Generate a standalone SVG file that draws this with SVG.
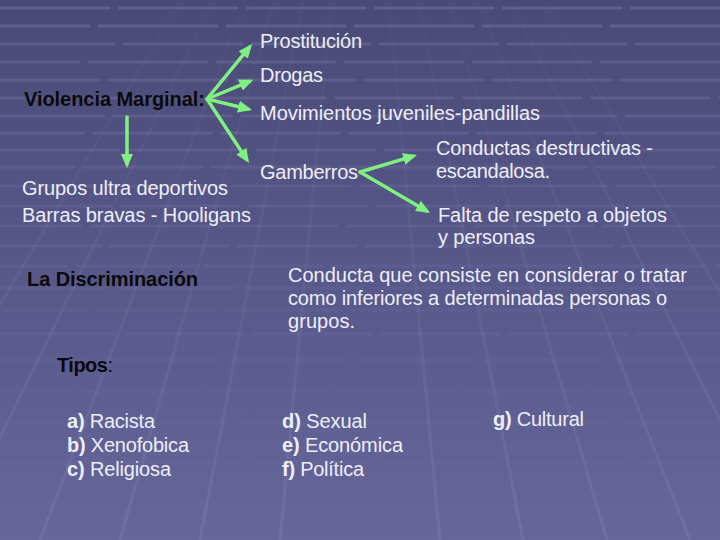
<svg xmlns="http://www.w3.org/2000/svg" width="720" height="540" viewBox="0 0 720 540">
<defs>
<linearGradient id="bg" x1="0" y1="0" x2="0" y2="1">
<stop offset="0" stop-color="#4a4a77"/>
<stop offset="0.5" stop-color="#57578a"/>
<stop offset="1" stop-color="#66669b"/>
</linearGradient>
<linearGradient id="persp" gradientUnits="userSpaceOnUse" x1="0" y1="0" x2="0" y2="540">
<stop offset="0" stop-color="#9a9ac8" stop-opacity="0.02"/>
<stop offset="1" stop-color="#9a9ac8" stop-opacity="0.18"/>
</linearGradient>
<marker id="ah" markerUnits="userSpaceOnUse" markerWidth="16" markerHeight="14" refX="10" refY="7" orient="auto">
<path d="M0,1 L14,7 L0,13 Z" fill="#80f080"/>
</marker>
<style>
.w{font-family:"Liberation Sans",Arial,sans-serif;font-size:20px;fill:#eeeef8}
.k{font-family:"Liberation Sans",Arial,sans-serif;font-size:20px;fill:#0a0a0a;font-weight:bold}
.b{font-weight:bold}
.n{font-weight:normal}
.c{stroke:#80f080;stroke-width:3.5;fill:none;stroke-linecap:round;marker-end:url(#ah)}
.bar{stroke:#7c7cab;stroke-width:3;fill:none}
.pl{stroke:url(#persp);stroke-width:3;fill:none}
</style>
</defs>
<rect width="720" height="540" fill="url(#bg)"/>
<g id="background-grid">
<g class="bar" stroke-dasharray="120 8">
<line x1="0" y1="8" x2="720" y2="8" stroke-opacity="0.42" stroke-dashoffset="10"/>
<line x1="0" y1="26" x2="720" y2="26" stroke-opacity="0.4" stroke-dashoffset="30"/>
<line x1="0" y1="44" x2="720" y2="44" stroke-opacity="0.38" stroke-dashoffset="5"/>
<line x1="0" y1="62" x2="720" y2="62" stroke-opacity="0.36" stroke-dashoffset="40"/>
<line x1="0" y1="80" x2="720" y2="80" stroke-opacity="0.35" stroke-dashoffset="20"/>
<line x1="0" y1="98" x2="720" y2="98" stroke-opacity="0.34" stroke-dashoffset="50"/>
<line x1="0" y1="116" x2="720" y2="116" stroke-opacity="0.33" stroke-dashoffset="15"/>
<line x1="0" y1="133" x2="720" y2="133" stroke-opacity="0.32" stroke-dashoffset="35"/>
<line x1="0" y1="150" x2="720" y2="150" stroke-opacity="0.3" stroke-dashoffset="0"/>
<line x1="0" y1="167" x2="720" y2="167" stroke-opacity="0.28" stroke-dashoffset="45"/>
<line x1="0" y1="186" x2="720" y2="186" stroke-opacity="0.26" stroke-dashoffset="25"/>
<line x1="0" y1="206" x2="720" y2="206" stroke-opacity="0.24" stroke-dashoffset="8"/>
<line x1="0" y1="226" x2="720" y2="226" stroke-opacity="0.22" stroke-dashoffset="38"/>
<line x1="0" y1="246" x2="720" y2="246" stroke-opacity="0.2" stroke-dashoffset="18"/>
<line x1="0" y1="266" x2="720" y2="266" stroke-opacity="0.18" stroke-dashoffset="52"/>
<line x1="0" y1="288" x2="720" y2="288" stroke-opacity="0.16" stroke-dashoffset="12"/>
<line x1="0" y1="310" x2="720" y2="310" stroke-opacity="0.15" stroke-dashoffset="33"/>
<line x1="0" y1="334" x2="720" y2="334" stroke-opacity="0.14" stroke-dashoffset="3"/>
<line x1="0" y1="360" x2="720" y2="360" stroke-opacity="0.13" stroke-dashoffset="28"/>
<line x1="0" y1="392" x2="720" y2="392" stroke-opacity="0.12" stroke-dashoffset="48"/>
<line x1="0" y1="424" x2="720" y2="424" stroke-opacity="0.1" stroke-dashoffset="22"/>
<line x1="0" y1="462" x2="720" y2="462" stroke-opacity="0.08" stroke-dashoffset="6"/>
<line x1="0" y1="503" x2="720" y2="503" stroke-opacity="0.07" stroke-dashoffset="42"/>
</g>
<g class="pl">
<line x1="360" y1="-300" x2="-140" y2="540"/>
<line x1="360" y1="-300" x2="-50" y2="540"/>
<line x1="360" y1="-300" x2="40" y2="540"/>
<line x1="360" y1="-300" x2="120" y2="540"/>
<line x1="360" y1="-300" x2="200" y2="540"/>
<line x1="360" y1="-300" x2="280" y2="540"/>
<line x1="360" y1="-300" x2="440" y2="540"/>
<line x1="360" y1="-300" x2="523" y2="540"/>
<line x1="360" y1="-300" x2="607" y2="540"/>
<line x1="360" y1="-300" x2="690" y2="540"/>
<line x1="360" y1="-300" x2="780" y2="540"/>
<line x1="360" y1="-300" x2="870" y2="540"/>
</g>
</g>
<g id="connectors">
<line class="c" x1="207" y1="99" x2="249.5" y2="47.2"/>
<line class="c" x1="207" y1="99" x2="249.6" y2="81.3"/>
<line class="c" x1="207" y1="99" x2="248.1" y2="109"/>
<line class="c" x1="207" y1="99" x2="246.8" y2="159.6"/>
<line class="c" x1="127" y1="117" x2="127" y2="164"/>
<line class="c" x1="360" y1="172" x2="413.2" y2="156.1"/>
<line class="c" x1="360" y1="172" x2="426.6" y2="210.9"/>
</g>
<g id="violencia-marginal"><text class="k" x="24" y="106" textLength="181" lengthAdjust="spacing">Violencia Marginal:</text></g>
<g id="prostitucion"><text class="w" x="260" y="48" textLength="102" lengthAdjust="spacing">Prostitución</text></g>
<g id="drogas"><text class="w" x="260" y="82" textLength="63" lengthAdjust="spacing">Drogas</text></g>
<g id="movimientos"><text class="w" x="260" y="120" textLength="280" lengthAdjust="spacing">Movimientos juveniles-pandillas</text></g>
<g id="gamberros"><text class="w" x="260" y="179" textLength="98" lengthAdjust="spacing">Gamberros</text></g>
<g id="conductas-destructivas">
<text class="w" x="436" y="155" textLength="217" lengthAdjust="spacing">Conductas destructivas -</text>
<text class="w" x="436" y="178" textLength="114" lengthAdjust="spacing">escandalosa.</text>
</g>
<g id="falta-respeto">
<text class="w" x="438" y="222" textLength="229" lengthAdjust="spacing">Falta de respeto a objetos</text>
<text class="w" x="438" y="244" textLength="97" lengthAdjust="spacing">y personas</text>
</g>
<g id="grupos-ultra">
<text class="w" x="22" y="195" textLength="206" lengthAdjust="spacing">Grupos ultra deportivos</text>
<text class="w" x="22" y="222" textLength="229" lengthAdjust="spacing">Barras bravas - Hooligans</text>
</g>
<g id="la-discriminacion"><text class="k" x="27" y="286" textLength="171" lengthAdjust="spacing">La Discriminación</text></g>
<g id="definicion">
<text class="w" x="288" y="282" textLength="399" lengthAdjust="spacing">Conducta que consiste en considerar o tratar</text>
<text class="w" x="288" y="305" textLength="379" lengthAdjust="spacing">como inferiores a determinadas personas o</text>
<text class="w" x="288" y="328" textLength="67" lengthAdjust="spacing">grupos.</text>
</g>
<g id="tipos"><text class="k" x="57" y="372" textLength="56" lengthAdjust="spacing">Tipos<tspan class="n">:</tspan></text></g>
<g id="tipos-abc">
<text class="w" x="67" y="428" textLength="88" lengthAdjust="spacing"><tspan class="b">a)</tspan> Racista</text>
<text class="w" x="67" y="452" textLength="122" lengthAdjust="spacing"><tspan class="b">b)</tspan> Xenofobica</text>
<text class="w" x="67" y="476" textLength="104" lengthAdjust="spacing"><tspan class="b">c)</tspan> Religiosa</text>
</g>
<g id="tipos-def">
<text class="w" x="282" y="428" textLength="85" lengthAdjust="spacing"><tspan class="b">d)</tspan> Sexual</text>
<text class="w" x="282" y="452" textLength="121" lengthAdjust="spacing"><tspan class="b">e)</tspan> Económica</text>
<text class="w" x="282" y="476" textLength="82" lengthAdjust="spacing"><tspan class="b">f)</tspan> Política</text>
</g>
<g id="tipos-g"><text class="w" x="493" y="426" textLength="91" lengthAdjust="spacing"><tspan class="b">g)</tspan> Cultural</text></g>
</svg>
